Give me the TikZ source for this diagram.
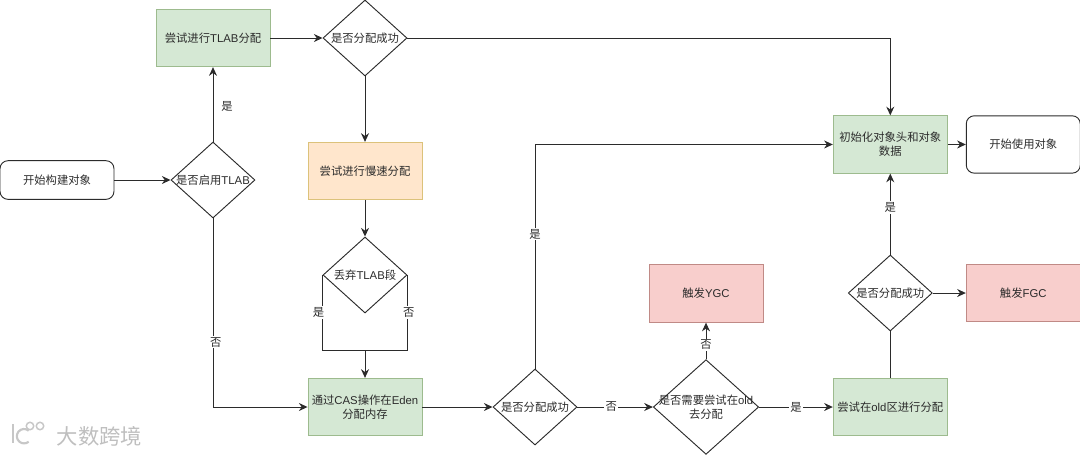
\documentclass[tikz,border=0pt]{standalone}
\usepackage{fontspec}
\setmainfont{Noto Sans CJK SC}
\newfontfamily\lat{Liberation Sans}
\usepackage{tikz}
\usetikzlibrary{calc,positioning,arrows.meta,shapes.geometric}
\definecolor{grnfill}{HTML}{D5E8D4}
\definecolor{grnline}{HTML}{9DBB8E}
\definecolor{orgfill}{HTML}{FFE6CC}
\definecolor{orgline}{HTML}{DCC27A}
\definecolor{redfill}{HTML}{F8CECC}
\definecolor{redline}{HTML}{C08A86}
\definecolor{ink}{HTML}{2B2B2B}
\begin{document}
\begin{tikzpicture}[font=\fontsize{8.5}{10.2}\selectfont, text=ink]
\tikzstyle{bx}=[draw, align=center, inner sep = 1 pt, minimum width = 85.5 pt, minimum height = 43 pt, line width = 0.7 pt]
\tikzstyle{grn}=[bx, fill = grnfill, draw = grnline]
\tikzstyle{org}=[bx, fill = orgfill, draw = orgline]
\tikzstyle{red}=[bx, fill = redfill, draw = redline]
\tikzstyle{rnd}=[bx, draw = ink, rounded corners = 6 pt]
\tikzstyle{dec}=[draw = ink, diamond, inner sep = 0 pt, minimum width = 63 pt, minimum height = 57 pt, line width = 0.7 pt]
\tikzstyle{lbl}=[midway, inner sep = 1 pt, fill = white]
\tikzstyle{arr}=[draw = ink, line width = 0.7 pt, -{Stealth[length=6.5pt, width=6pt]}]
\tikzstyle{lin}=[draw = ink, line width = 0.7 pt]
\tikzstyle{wmk}=[black!22, line width = 1.6 pt]

\useasboundingbox (0,0) rectangle (810pt,-341.25pt);

\node[rnd, minimum height = 29 pt] (start) at (42.75pt,-135pt) {开始构建对象};
\node[dec, right of = start, node distance = 117pt, label={center:是否启用{\lat TLAB}}] (tlabq) {};
\node[grn, above of = tlabq, node distance = 106.5pt] (tlab) {尝试进行{\lat TLAB}分配};
\node[dec, right of = tlab, node distance = 114pt, label={center:是否分配成功}] (oka) {};
\node[org, below of = oka, node distance = 99.75pt] (slow) {尝试进行慢速分配};
\node[dec, below of = slow, node distance = 78pt, label={center:丢弃{\lat TLAB}段}] (drop) {};
\node[grn, below of = drop, node distance = 99pt] (cas) {通过{\lat CAS}操作在{\lat Eden}\\分配内存};
\node[dec, right of = cas, node distance = 127.5pt, label={center:是否分配成功}] (okb) {};
\node[dec, right of = okb, node distance = 128.25pt, minimum width = 79 pt, minimum height = 71 pt, label={[align=center]center:是否需要尝试在{\lat old}\\去分配}] (need) {};
\node[red, above of = need, node distance = 85.1pt] (ygc) {触发{\lat YGC}};
\node[grn, right of = need, node distance = 138.2pt] (old) {尝试在{\lat old}区进行分配};
\node[dec, above of = old, node distance = 85.5pt, label={center:是否分配成功}] (okc) {};
\node[grn, above of = okc, node distance = 111.4pt] (init) {初始化对象头和对象\\数据};
\node[rnd, right of = init, node distance = 99.75pt] (use) {开始使用对象};
\node[red, right of = okc, node distance = 99.75pt] (fgc) {触发{\lat FGC}};
\coordinate[above of = cas, node distance = 42.75pt] (join);

\draw[arr] (start) -- (tlabq);
\draw[arr] (tlabq) -- node[lbl, xshift = 10.5 pt, yshift = -1.5 pt, fill = none]{是} (tlab);
\draw[arr] (tlabq) |- node[lbl, pos = 0.328, xshift = 2 pt]{否} (cas);
\draw[arr] (tlab) -- (oka);
\draw[arr] (oka) -- (slow);
\draw[arr] (oka) -| (init);
\draw[arr] (slow) -- (drop);
\draw[lin] (drop.west) |- node[lbl, pos = 0.25, xshift = -3 pt]{是} (join) -| node[lbl, pos = 0.75, xshift = 1 pt]{否} (drop.east);
\draw[arr] (join) -- (cas);
\draw[arr] (cas) -- (okb);
\draw[arr] (okb) |- node[lbl, pos = 0.3]{是} (init);
\draw[arr] (okb) -- node[lbl, xshift = -3 pt]{否} (need);
\draw[arr] (need) -- node[lbl, yshift = -3 pt]{否} (ygc);
\draw[arr] (need) -- node[lbl]{是} (old);
\draw[lin] (old) -- (okc);
\draw[arr] (okc) -- node[lbl, yshift = 5 pt]{是} (init);
\draw[arr] (okc) -- (fgc);
\draw[arr] (init) -- (use);

\node[anchor = west, inner sep = 0 pt, text = black!25, font = \fontsize{16}{18}\selectfont] (mark) at (42.5pt,-327pt) {大数跨境};
\draw[wmk] (9.75pt,-318pt) -- (9.75pt,-332pt);
\draw[wmk] (21.5pt,-323pt) arc (50:310:5.4pt);
\draw[wmk, line width = 1.1 pt] (22.5pt,-319.5pt) circle (2.8 pt) (30pt,-319.5pt) circle (2.8 pt);
\end{tikzpicture}
\end{document}
